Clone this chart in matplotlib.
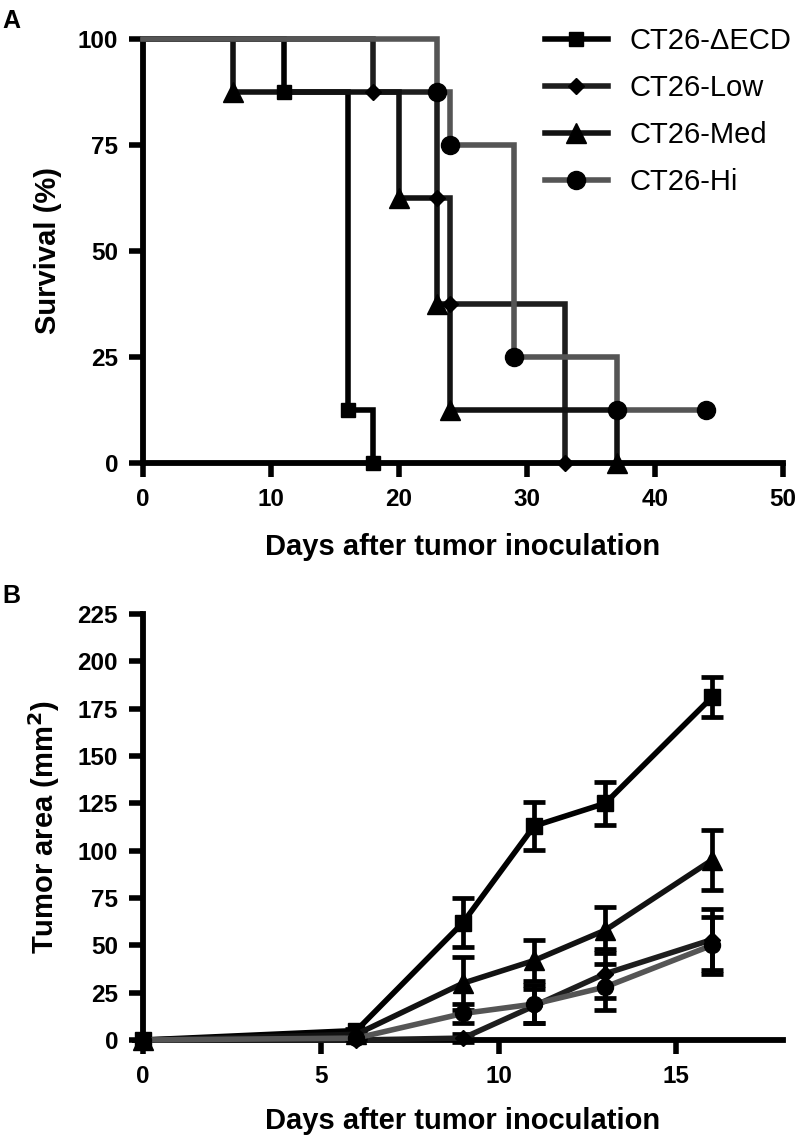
import numpy as np
import matplotlib
matplotlib.use("Agg")
import matplotlib.pyplot as plt

plt.rcParams['font.family'] = ['Liberation Sans', 'DejaVu Sans']

groups = ["CT26-\u0394ECD", "CT26-Low", "CT26-Med", "CT26-Hi"]
colors = ["#000000", "#1e1e1e", "#121212", "#555555"]
markers = ["s", "D", "^", "o"]
msizes_a = [10.5, 8.5, 15, 13]
msizes_b = [11.5, 8.5, 14, 11.5]

# panel A: Kaplan-Meier survival (time in days, survival %)
surv_t = [
    [0, 11, 16, 18],
    [0, 18, 23, 24, 33],
    [0, 7, 20, 23, 24, 37],
    [0, 23, 24, 29, 37, 44],
]
surv_p = [
    [100, 87.5, 12.5, 0],
    [100, 87.5, 62.5, 37.5, 0],
    [100, 87.5, 62.5, 37.5, 12.5, 0],
    [100, 87.5, 75, 25, 12.5, 12.5],
]

# panel B: tumor area (mm2), mean and error
days = [0, 6, 9, 11, 13, 16]
area = [
    [0, 5, 62, 113, 125, 181],
    [0, 0, 1, 18, 35, 53],
    [0, 3, 30, 42, 58, 95],
    [0, 1, 14, 19, 28, 50],
]
area_err = [
    [0, 1, 13, 12.5, 11.5, 10.5],
    [0, 0, 2, 9, 13, 16],
    [0, 1, 14, 11, 12, 16],
    [0, 0.5, 5, 10, 12, 15],
]

W, H = 796, 1143
fig = plt.figure(figsize=(W / 100, H / 100), dpi=100)
axA = fig.add_axes([143 / W, 1 - 463 / H, 640 / W, 424 / H])
axB = fig.add_axes([143 / W, 1 - 1040 / H, 640 / W, 426 / H])

lw = 4.0
for ax in (axA, axB):
    for s in ("top", "right"):
        ax.spines[s].set_visible(False)
    for s in ("left", "bottom"):
        ax.spines[s].set_linewidth(4.2)
    ax.tick_params(width=4.0, length=10, labelsize=17.5, pad=8)

# panel A
for i in range(4):
    z = 5 if i == 3 else 3
    axA.step(surv_t[i], surv_p[i], where="post", color=colors[i], lw=lw,
             zorder=z, clip_on=False, solid_joinstyle="miter")
    axA.plot(surv_t[i][1:], surv_p[i][1:], ls="none", marker=markers[i],
             ms=msizes_a[i], color="black", zorder=z + 1, clip_on=False)
    axA.plot([], [], color=colors[i], lw=lw, marker=markers[i],
             ms=msizes_a[i], mfc="black", mec="black", label=groups[i])

axA.set_xlim(0, 50)
axA.set_ylim(0, 100)
axA.set_xticks([0, 10, 20, 30, 40, 50])
axA.set_yticks([0, 25, 50, 75, 100])
axA.set_xlabel("Days after tumor inoculation", fontsize=21, fontweight="bold", labelpad=16)
axA.set_ylabel("Survival (%)", fontsize=21, fontweight="bold", labelpad=11)
axA.legend(loc="upper left", bbox_to_anchor=(545 / W, 1 - 27 / H),
           bbox_transform=fig.transFigure, frameon=False, fontsize=21,
           borderpad=0, borderaxespad=0, handlelength=2.15,
           handletextpad=0.75, labelspacing=0.65)

# panel B
for i in range(4):
    z = 5 if i == 3 else 3
    axB.errorbar(days, area[i], yerr=area_err[i], color=colors[i], lw=lw,
                 marker=markers[i], ms=msizes_b[i], mfc="black", mec="black",
                 ecolor="black", elinewidth=3.4, capsize=8, capthick=3.4,
                 zorder=z, clip_on=False)

axB.set_xlim(0, 18)
axB.set_ylim(0, 225)
axB.set_xticks([0, 5, 10, 15])
axB.set_yticks(np.arange(0, 226, 25))
axB.set_xlabel("Days after tumor inoculation", fontsize=21, fontweight="bold", labelpad=14)
axB.set_ylabel("Tumor area (mm$^\\mathbf{2}$)", fontsize=21, fontweight="bold", labelpad=11)

for ax in (axA, axB):
    for lab in ax.get_xticklabels() + ax.get_yticklabels():
        lab.set_fontweight("bold")

fig.text(2 / W, 1 - 21 / H, "A", fontsize=18, fontweight="bold", va="center")
fig.text(2 / W, 1 - 596 / H, "B", fontsize=18, fontweight="bold", va="center")

fig.savefig("out.png", dpi=100)
